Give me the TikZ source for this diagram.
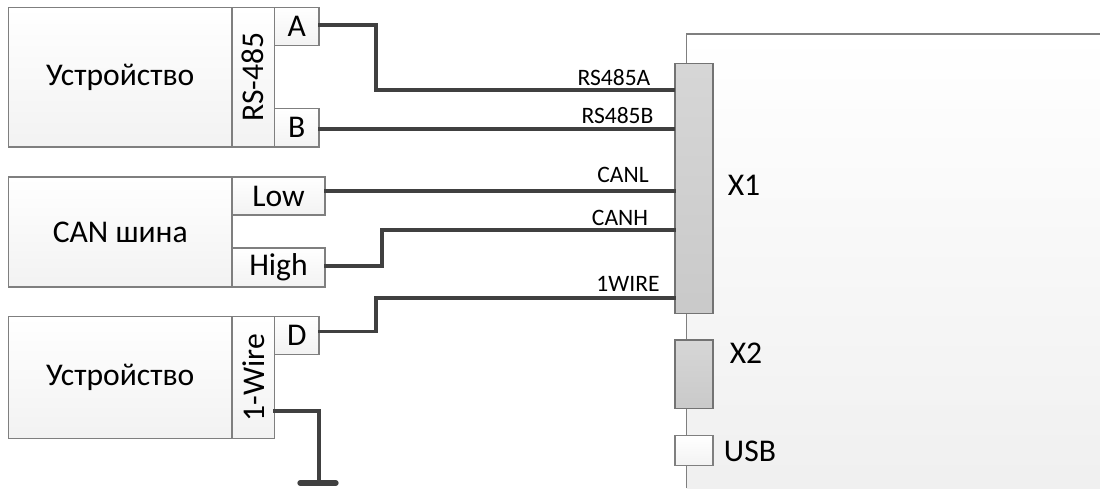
\documentclass[tikz,border=0pt]{standalone}
\usepackage{fontspec}
\setmainfont{Carlito}
\definecolor{edgegray}{HTML}{7F7F7F}
\definecolor{wiregray}{HTML}{404040}
\tikzset{
  box/.style={draw=edgegray,line width=0.6pt,top color=white,bottom color=black!5,
    inner sep=0pt,outer sep=0pt,font=\fontsize{18}{20}\selectfont},
  conn/.style={draw=black!55,line width=0.7pt,top color=black!16,bottom color=black!21,
    inner sep=0pt,outer sep=0pt},
  wire/.style={draw=wiregray,line width=2pt},
  siglabel/.style={inner sep=0pt,font=\fontsize{13.4}{15}\selectfont},
  conlabel/.style={inner sep=0pt,font=\fontsize{18}{20}\selectfont}
}
\begin{document}
\begin{tikzpicture}[x=0.02cm,y=-0.02cm]
                \useasboundingbox (0,0) rectangle (1100,488);

                % board
                \shade [top color=white,bottom color=black!6] (686.5,34) rectangle (1100,488);
                \draw [edgegray,line width=0.6pt] (686.5,488)--(686.5,34)--(1100,34);
                \node[conn,minimum width=0.76cm,minimum height=5cm] (xone) at(694,188.5) {};
                \node[conn,minimum width=0.76cm,minimum height=1.374cm] (xtwo) at(694,374.3) {};
                \node[box,minimum width=0.76cm,minimum height=0.592cm] (usb) at(694,450.5) {};
                \node[conlabel] (xonelabel) at(744,185) {X1};
                \node[conlabel] (xtwolabel) at(746,353) {X2};
                \node[conlabel] (usblabel) at(750,451) {USB};

                % RS-485
                \node[box,minimum width=4.47cm,minimum height=2.79cm] (devone) at(120.25,77.25) {Устройство};
                \node[box,minimum width=0.85cm,minimum height=2.79cm] (rsport) at(253.25,77.25) {\rotatebox{90}{RS-485}};
                \node[box,minimum width=0.89cm,minimum height=0.76cm] (pina) at(296.75,26.5) {A};
                \node[box,minimum width=0.89cm,minimum height=0.77cm] (pinb) at(296.75,127.75) {B};

                % CAN
                \node[box,minimum width=4.47cm,minimum height=2.2cm] (candev) at(120.25,232) {CAN шина};
                \node[box,minimum width=1.86cm,minimum height=0.76cm] (pinlow) at(278.5,196) {Low};
                \node[box,minimum width=1.86cm,minimum height=0.78cm] (pinhigh) at(278.5,267.5) {High};

                % 1-Wire
                \node[box,minimum width=4.47cm,minimum height=2.43cm] (devtwo) at(120.25,377.5) {Устройство};
                \node[box,minimum width=0.85cm,minimum height=2.43cm] (wireport) at(253.25,377.5) {\rotatebox{90}{1-Wire}};
                \node[box,minimum width=0.89cm,minimum height=0.77cm] (pind) at(296.75,335.5) {D};

                \coordinate (ina) at(675,90);
                \coordinate (inb) at(675,129);
                \coordinate (inl) at(676,191);
                \coordinate (inh) at(676,230);
                \coordinate (ind) at(676,298);
                \coordinate (outa) at(318,25);
                \coordinate (outb) at(318,129);
                \coordinate (outl) at(324,191);
                \coordinate (outh) at(324,266);
                \coordinate (outd) at(318,331.5);
                \coordinate (gndtap) at(273,411);
                \coordinate (gnd) at(319,483);
                \coordinate (gndl) at(300,483);
                \coordinate (gndr) at(336,483);

                \draw[wire] (outa)--(376,25)--(376,90)--(ina);
                \draw[wire] (outb)--(inb);
                \draw[wire] (outl)--(inl);
                \draw[wire] (outh)--(382,266)--(382,230)--(inh);
                \draw[wire] (outd)--(376,331.5)--(376,298)--(ind);
                \draw[wire] (gndtap)--(319,411)--(gnd);
                \draw[wiregray,line width=3pt,line cap=round] (gndl)--(gndr);

                \node[siglabel] (siga) at(614,78) {RS485A};
                \node[siglabel] (sigb) at(617.5,116) {RS485B};
                \node[siglabel] (sigl) at(623,175) {CANL};
                \node[siglabel] (sigh) at(620,218) {CANH};
                \node[siglabel] (sigd) at(628,284) {1WIRE};
\end{tikzpicture}
\end{document}
